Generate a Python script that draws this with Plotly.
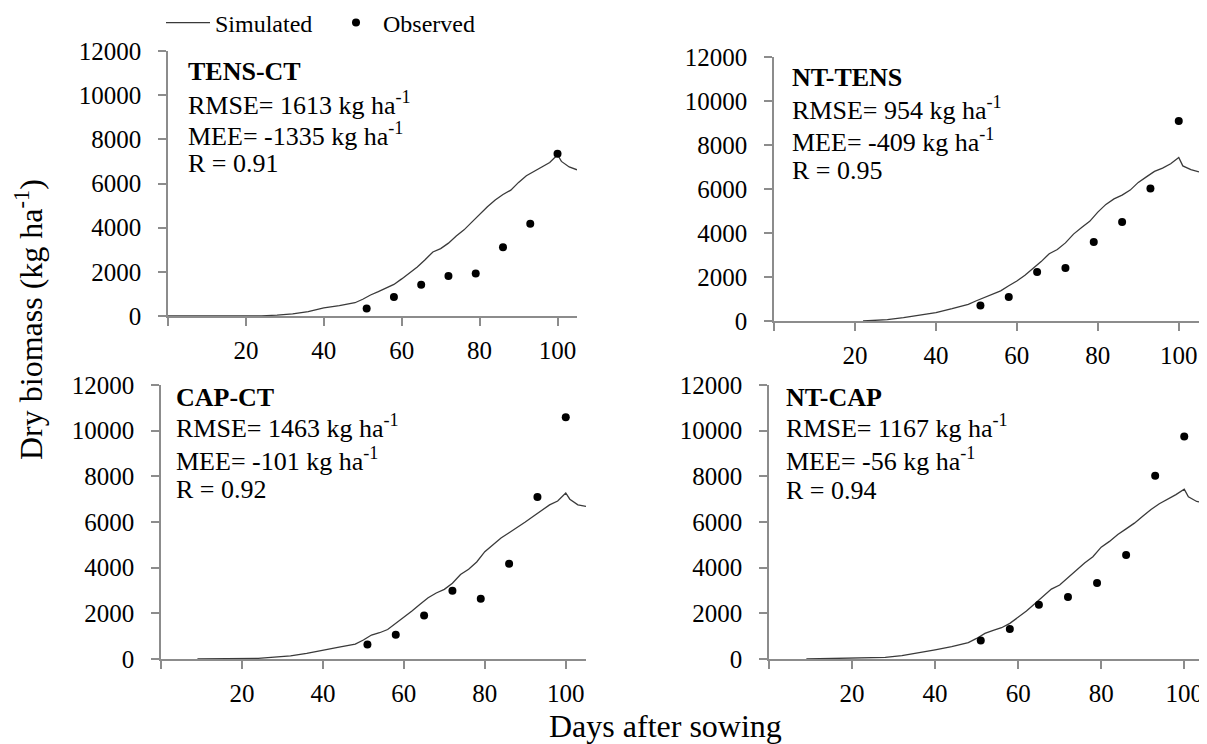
import plotly.graph_objects as go

# ---------------- data ----------------
panel_names = ["TENS-CT", "NT-TENS", "CAP-CT", "NT-CAP"]
rmse = [1613, 954, 1463, 1167]
mee = [-1335, -409, -101, -56]
r_vals = ["0.91", "0.95", "0.92", "0.94"]

obs_days = [51, 58, 65, 72, 79, 86, 93, 100]
obs_tens_ct = [340, 860, 1420, 1810, 1930, 3110, 4180, 7350]
obs_nt_tens = [710, 1090, 2230, 2410, 3590, 4500, 6020, 9090]
obs_cap_ct = [630, 1060, 1910, 2990, 2640, 4170, 7090, 10590]
obs_nt_cap = [810, 1310, 2380, 2710, 3330, 4560, 8030, 9740]

sim_days_tens_ct = [0, 10, 20, 24, 28, 32, 36, 40, 44, 48, 50, 52, 54, 56, 58, 60, 62, 64, 66, 68,
                    70, 72, 74, 76, 78, 80, 82, 84, 86, 88, 90, 92, 94, 96, 98, 100, 101, 103, 105]
sim_tens_ct = [0, 0, 0, 10, 40, 100, 200, 370, 470, 600, 760, 950, 1100, 1270, 1430, 1680, 1950, 2220, 2550, 2900,
               3050, 3300, 3620, 3900, 4250, 4600, 4950, 5250, 5500, 5700, 6050, 6350, 6550, 6750, 6950, 7300, 7000, 6750, 6620]

sim_days_nt_tens = [22, 24, 28, 32, 36, 40, 44, 48, 50, 52, 54, 56, 58, 60, 62, 64, 66, 68, 70, 72,
                    74, 76, 78, 80, 82, 84, 86, 88, 90, 92, 94, 96, 98, 100, 101, 103, 105]
sim_nt_tens = [0, 10, 60, 150, 260, 380, 560, 760, 920, 1080, 1220, 1370, 1600, 1820, 2080, 2370, 2700, 3060, 3250, 3550,
               3950, 4250, 4530, 4950, 5300, 5550, 5720, 5950, 6300, 6550, 6800, 6950, 7150, 7430, 7050, 6880, 6780]

sim_days_cap = [9, 12, 16, 20, 24, 28, 32, 36, 40, 44, 48, 50, 52, 54, 56, 58, 60, 62, 64, 66,
                68, 70, 72, 74, 76, 78, 80, 82, 84, 86, 88, 90, 92, 94, 96, 98, 100, 101, 103, 105]
sim_cap_ct = [0, 10, 15, 20, 30, 80, 140, 250, 400, 520, 650, 830, 1050, 1150, 1290, 1550, 1800, 2100, 2400, 2680,
              2890, 3050, 3320, 3700, 3930, 4250, 4700, 5000, 5300, 5530, 5750, 6000, 6250, 6500, 6750, 6920, 7270, 7000, 6750, 6680]
sim_nt_cap = [0, 10, 15, 20, 30, 70, 150, 260, 400, 540, 720, 900, 1120, 1250, 1370, 1560, 1810, 2100, 2420, 2760,
              3060, 3240, 3560, 3900, 4200, 4480, 4900, 5150, 5450, 5700, 5950, 6250, 6550, 6800, 7000, 7200, 7440, 7100, 6900, 6830]

x_tickvals = [0, 20, 40, 60, 80, 100]
x_ticktext = ["", "20", "40", "60", "80", "100"]
y_tickvals = [0, 2000, 4000, 6000, 8000, 10000, 12000]
y_ticktext = ["0", "2000", "4000", "6000", "8000", "10000", "12000"]

sims = [(sim_days_tens_ct, sim_tens_ct), (sim_days_nt_tens, sim_nt_tens),
        (sim_days_cap, sim_cap_ct), (sim_days_cap, sim_nt_cap)]
obs = [obs_tens_ct, obs_nt_tens, obs_cap_ct, obs_nt_cap]

# ---------------- layout geometry (page pixels) ----------------
OFF = 8                      # default body margin of the html page
W, H = 1207 - OFF, 744 - OFF  # figure size so that it ends at the window edge


def px(v):
    return (v - OFF) / W


def py(v):
    return 1 - (v - OFF) / H


boxes = [(168, 577, 51, 316), (774, 1199, 57, 321), (161, 586, 385, 659), (769, 1205, 385, 659)]
texts_pos = [(186, [71, 103, 134, 164]), (790, [77, 109, 140, 170]),
             (174, [397, 427, 459, 489]), (784, [397, 427, 459, 490])]

FONT = "Liberation Serif"
AX_COLOR = "#8c8c8c"

fig = go.Figure()
for i in range(4):
    xa = "x" if i == 0 else f"x{i+1}"
    ya = "y" if i == 0 else f"y{i+1}"
    sx, sy = sims[i]
    fig.add_trace(go.Scatter(x=sx, y=sy, mode="lines", name="Simulated",
                             line=dict(color="#3a3a3a", width=1.3),
                             xaxis=xa, yaxis=ya, showlegend=(i == 0), legend="legend"))
    fig.add_trace(go.Scatter(x=obs_days, y=obs[i], mode="markers", name="Observed",
                             marker=dict(color="black", size=8),
                             xaxis=xa, yaxis=ya, showlegend=(i == 0), legend="legend2"))

layout = dict(width=W, height=H, margin=dict(l=0, r=0, t=0, b=0, autoexpand=False),
              paper_bgcolor="white", plot_bgcolor="white",
              font=dict(family=FONT, color="black", size=25))

for i, (l, r, t, b) in enumerate(boxes):
    xk = "xaxis" if i == 0 else f"xaxis{i+1}"
    yk = "yaxis" if i == 0 else f"yaxis{i+1}"
    layout[xk] = dict(domain=[px(l), px(r)], range=[0, 105], tickvals=x_tickvals, ticktext=x_ticktext,
                      showgrid=False, zeroline=False, showline=True, linecolor=AX_COLOR, linewidth=1.5,
                      ticks="outside", ticklen=8, tickcolor=AX_COLOR, tickwidth=1.5,
                      tickfont=dict(family=FONT, size=25), ticklabelstandoff=3,
                      anchor="y" if i == 0 else f"y{i+1}")
    layout[yk] = dict(domain=[py(b), py(t)], range=[0, 12000], tickvals=y_tickvals, ticktext=y_ticktext,
                      showgrid=False, zeroline=False, showline=True, linecolor=AX_COLOR, linewidth=1.5,
                      ticks="outside", ticklen=8, tickcolor=AX_COLOR, tickwidth=1.5,
                      tickfont=dict(family=FONT, size=25), ticklabelstandoff=12,
                      anchor="x" if i == 0 else f"x{i+1}")

annotations = []
for i in range(4):
    lx, ys = texts_pos[i]
    lines = [f"<b>{panel_names[i]}</b>",
             f"RMSE= {rmse[i]} kg ha<sup>-1</sup>",
             f"MEE= {mee[i]} kg ha<sup>-1</sup>",
             f"R = {r_vals[i]}"]
    for txt, yy in zip(lines, ys):
        annotations.append(dict(text=txt, x=px(lx), y=py(yy), xref="paper", yref="paper",
                                xanchor="left", yanchor="middle", showarrow=False,
                                font=dict(family=FONT, size=26, color="black")))

annotations.append(dict(text="Days after sowing", x=px(665), y=py(726), xref="paper", yref="paper",
                        xanchor="center", yanchor="middle", showarrow=False,
                        font=dict(family=FONT, size=32, color="black")))
annotations.append(dict(text="Dry biomass (kg ha<sup>-1</sup>)", x=px(29), y=py(320), xref="paper", yref="paper",
                        xanchor="center", yanchor="middle", textangle=-90, showarrow=False,
                        font=dict(family=FONT, size=32, color="black")))
layout["annotations"] = annotations

layout["legend"] = dict(x=px(161), y=py(23), xanchor="left", yanchor="middle", orientation="h",
                        bgcolor="rgba(0,0,0,0)", borderwidth=0, itemwidth=44,
                        font=dict(family=FONT, size=24, color="black"))
layout["legend2"] = dict(x=px(329), y=py(23), xanchor="left", yanchor="middle", orientation="h",
                         bgcolor="rgba(0,0,0,0)", borderwidth=0, itemwidth=44,
                         font=dict(family=FONT, size=24, color="black"))

fig.update_layout(**layout)
fig.write_html("out.html")
